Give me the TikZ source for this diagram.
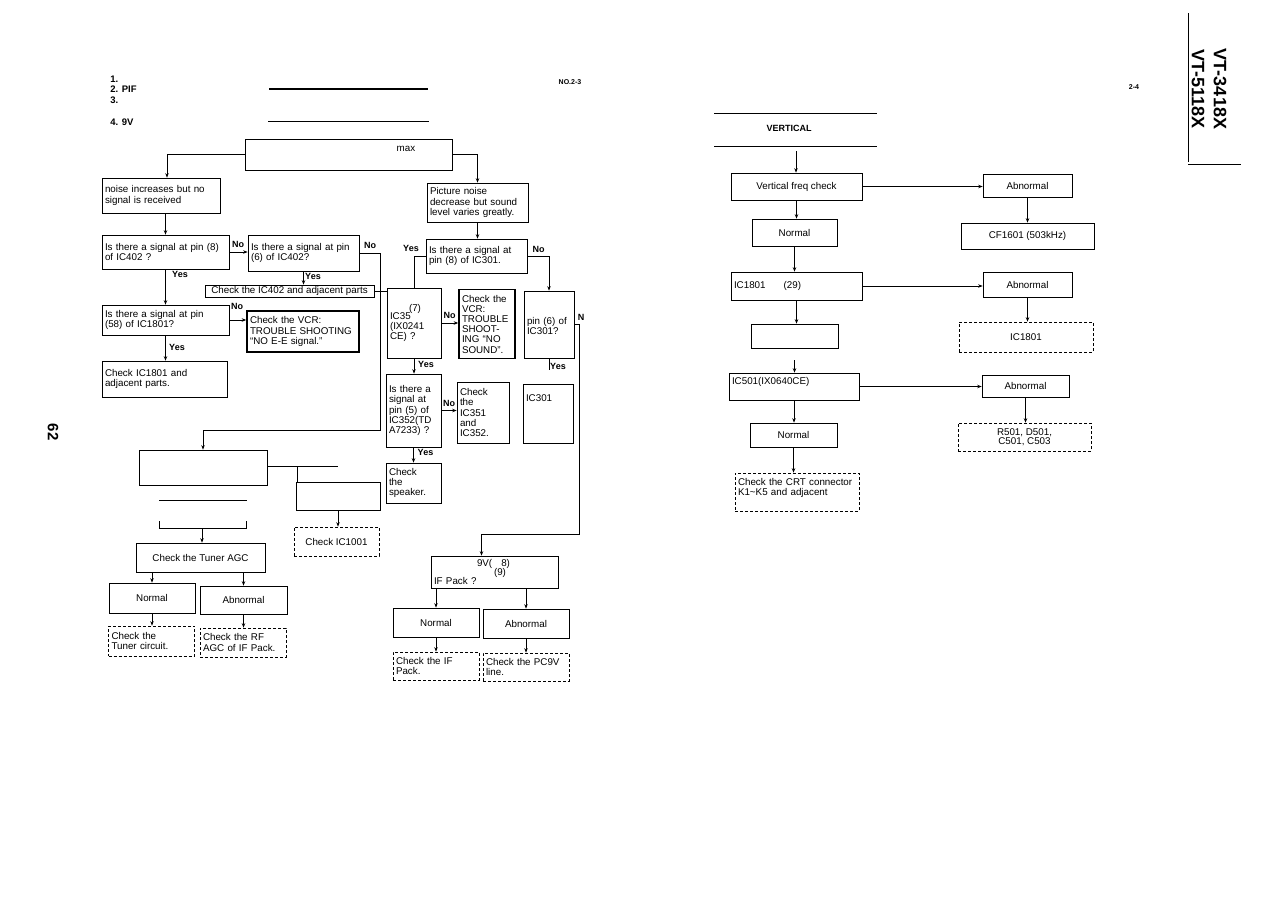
\documentclass[tikz,border=0pt]{standalone}
\usepackage{fontspec}
\setmainfont{Liberation Sans}
\usetikzlibrary{arrows.meta}
\begin{document}
\begin{tikzpicture}[x=1pt,y=-1pt,line width=.7pt,
  >={Stealth[length=4.5pt,width=3.5pt]},
  every node/.style={font=\fontsize{9.8}{10.2}\selectfont},
  box/.style={draw,inner xsep=3pt,inner ysep=1.5pt},
  dbox/.style={box,dash pattern=on 3pt off 2pt},
  vbox/.style={box,line width=1.6pt},
  wh/.style 2 args={minimum width=#1,minimum height=#2},
  tw/.style={text width=#1,align=left},
  lbl/.style={inner sep=0pt},
  yn/.style={lbl,font=\fontsize{9}{10}\selectfont\bfseries}]
\useasboundingbox (0,0) rectangle (1268,897);

% heading
\node[lbl,font=\fontsize{9.5}{10}\selectfont\bfseries,anchor=west] (h1) at (110,79) {1.};
\node[lbl,font=\fontsize{9.5}{10}\selectfont\bfseries,anchor=west] (h2) at (110,89) {2. PIF};
\node[lbl,font=\fontsize{9.5}{10}\selectfont\bfseries,anchor=west] (h3) at (110,100) {3.};
\node[lbl,font=\fontsize{9.5}{10}\selectfont\bfseries,anchor=west] (h4) at (110,122) {4. 9V};
\draw[line width=2pt] (269,89) -- (428,89);
\draw (268,121) -- (429,121);
\node[lbl,font=\fontsize{7}{8}\selectfont\bfseries] (pg23) at (570,82) {NO.2-3};
\node[lbl,font=\fontsize{15}{16}\selectfont\bfseries,rotate=-90] (pgno) at (53,432) {62};

% left chart
\node[box,wh={207pt}{31pt}] (fault) at (348.5,154.5) {};
\node[lbl] (maxlbl) at (406,149) {max};
\node[box,tw={112pt},minimum height=35pt] (noise) at (161,195.5) {noise increases but no\\signal is received};
\node[box,tw={121pt},minimum height=34pt] (ask8) at (165.5,252) {Is there a signal at pin (8)\\of IC402 ?};
\node[box,tw={105pt},minimum height=36pt] (ask6) at (303.5,253) {Is there a signal at pin\\(6) of IC402?};
\node[box,inner xsep=2pt,inner ysep=1pt,wh={169pt}{12pt}] (ic402) at (289.5,291) {Check the IC402 and adjacent parts};
\node[box,tw={121pt},minimum height=30pt] (ask58) at (165.5,320) {Is there a signal at pin\\(58) of IC1801?};
\node[vbox,tw={106pt},minimum height=41pt] (vcr1) at (303,331.5) {Check the VCR:\\TROUBLE SHOOTING\\“NO E-E signal.”};
\node[box,tw={119pt},minimum height=36pt] (ic1801) at (164.5,379) {Check IC1801 and\\adjacent parts.};

\node[box,tw={95pt},minimum height=39pt] (pnoise) at (477.5,202.5) {Picture noise\\decrease but sound\\level varies greatly.};
\node[box,tw={95pt},minimum height=34pt] (ask301) at (476.5,256) {Is there a signal at\\pin (8) of IC301.};
\node[box,tw={48pt},minimum height=70pt] (ic35) at (414,323) {\hspace*{19pt}(7)\\[-2pt]IC35\\(IX0241\\CE) ?};
\node[vbox,tw={50pt},minimum height=69pt] (vcr2) at (487,324) {Check the\\VCR:\\TROUBLE\\SHOOT-\\ING “NO\\SOUND”.};
\node[box,tw={49pt},minimum height=73pt] (ask5) at (413.5,410.5) {Is there a\\signal at\\pin (5) of\\IC352(TD\\A7233) ?};
\node[box,tw={46pt},minimum height=61pt] (ic351) at (483,412.5) {Check\\the\\IC351\\and\\IC352.};
\node[box,tw={49pt},minimum height=40pt] (spk) at (413.5,483) {Check\\the\\speaker.};
\node[box,tw={44pt},minimum height=67pt] (ask6b) at (549,324.5) {\mbox{}\\pin (6) of\\IC301?};
\node[box,tw={44pt},minimum height=59pt] (ic301) at (548,413.5) {IC301\\\mbox{}\\\mbox{}\\\mbox{}};

\node[box,wh={128pt}{35pt}] (agcq) at (203,467.5) {};
\node[box,wh={84pt}{28pt}] (ifbox) at (338,496) {};
\node[dbox,wh={85pt}{29pt}] (ic1001) at (336.5,541.5) {Check IC1001};
\node[box,wh={129pt}{29pt}] (agc) at (200.5,557.5) {Check the Tuner AGC};
\node[box,wh={86pt}{30pt}] (norm1) at (152,598) {Normal};
\node[box,wh={87pt}{28pt}] (abn1) at (243.5,600) {Abnormal};
\node[dbox,tw={80pt},minimum height=30pt] (tuner) at (151.5,641) {Check the\\Tuner circuit.};
\node[dbox,tw={80pt},minimum height=29pt] (rfagc) at (243,642.5) {Check the RF\\AGC of IF Pack.};

\node[box,tw={121pt},minimum height=32pt,inner ysep=1pt] (pc9q) at (494.5,572) {\hspace*{43pt}9V(\hspace{9pt}8)\\[-1pt]\hspace*{60pt}(9)\\[-1pt]IF Pack ?};
\node[box,wh={86pt}{29pt}] (norm2) at (436,622.5) {Normal};
\node[box,wh={86pt}{29pt}] (abn2) at (526,623.5) {Abnormal};
\node[dbox,tw={80pt},minimum height=28pt] (ifpack) at (436,666) {Check the IF\\Pack.};
\node[dbox,tw={80pt},minimum height=28pt] (pc9v) at (526,667) {Check the PC9V\\line.};

\draw[->] (fault.west) -| ([xshift=6pt]noise.north);
\draw[->] (fault.east) -| (pnoise.north);
\draw[->] (ask8.north |- noise.south) -- (ask8.north);
\draw[->] (ask8.east) -- (ask8.east -| ask6.west);
\draw[->] (ask6.south) -- (ask6.south |- ic402.north);
\draw[->] (ask8.south) -- (ask8.south |- ask58.north);
\draw[->] (ask58.east) -- (ask58.east -| vcr1.west);
\draw[->] (ask58.south) -- (ask58.south |- ic1801.north);
\coordinate (c1) at (380,430);
\draw[->] (ask6.east) -| (c1) -| (agcq.north);
\draw (ic402.east) -- (ic402.east -| ic35.west);

\draw[->] (pnoise.south) -- (pnoise.south |- ask301.north);
\draw (ask301.west) -| (ic35.north);
\draw[->] (ask301.east) -| (ask6b.north);
\draw[->] (ic35.east) -- (ic35.east -| vcr2.west);
\draw[->] (ic35.south) -- (ic35.south |- ask5.north);
\draw[->] (ask5.east) -- (ask5.east -| ic351.west);
\draw[->] (ask5.south) -- (ask5.south |- spk.north);
\coordinate (y6) at (549,370);
\draw (ask6b.south) -- (y6);
\coordinate (c2) at (579,534);
\draw[->] (ask6b.east) -| (c2) -| ([xshift=-13pt]pc9q.north);

\coordinate (stub) at (338,466);
\draw (agcq.east |- stub) -- (stub);
\coordinate (tee) at (297,466);
\draw (tee) -- (tee |- ifbox.north);
\draw (159,500) -- (247,500);
\draw (159,521) -- (159,528) -- (246,528) -- (246,521);
\coordinate (brk) at (202,528);
\draw[->] (brk) -- (brk |- agc.north);
\draw[->] (ifbox.south) -- (ifbox.south |- ic1001.north);
\draw[->] (norm1.north |- agc.south) -- (norm1.north);
\draw[->] (abn1.north |- agc.south) -- (abn1.north);
\draw[->] (norm1.south) -- (norm1.south |- tuner.north);
\draw[->] (abn1.south) -- (abn1.south |- rfagc.north);
\draw[->] (norm2.north |- pc9q.south) -- (norm2.north);
\draw[->] (abn2.north |- pc9q.south) -- (abn2.north);
\draw[->] (norm2.south) -- (norm2.south |- ifpack.north);
\draw[->] (abn2.south) -- (abn2.south |- pc9v.north);

\node[yn] (n1) at (238,244.5) {No};
\node[yn] (n2) at (370,245.5) {No};
\node[yn] (y1) at (180,274) {Yes};
\node[yn] (y2) at (313,276.5) {Yes};
\node[yn] (n3) at (237,306.5) {No};
\node[yn] (y3) at (177,347.5) {Yes};
\node[yn] (y4) at (411,248) {Yes};
\node[yn] (n4) at (538.5,249) {No};
\node[yn] (n5) at (449.5,315) {No};
\node[yn] (y5) at (426,364) {Yes};
\node[yn] (n6) at (581,317) {N};
\node[yn] (y6l) at (558,366) {Yes};
\node[yn] (n7) at (449,403) {No};
\node[yn] (y7) at (425.5,452) {Yes};

% right chart
\node[lbl,font=\fontsize{7}{8}\selectfont\bfseries] (pg24) at (1134,87) {2-4};
\node[lbl,font=\fontsize{18}{22}\selectfont\bfseries,rotate=-90,align=center] (model) at (1209,89) {VT-3418X\\VT-5118X};
\draw (1188,13) -- (1188,162);
\draw (1188,164) -- (1241,164);

\draw (714,113) -- (877,113);
\draw (714,146) -- (877,146);
\node[lbl,font=\fontsize{9}{10}\selectfont\bfseries] (vtitle) at (789,128) {VERTICAL};

\node[box,wh={131pt}{27pt}] (vf) at (796.5,186.5) {Vertical freq check};
\node[box,wh={89pt}{23pt}] (abnA) at (1027.5,185.5) {Abnormal};
\node[box,wh={133pt}{26pt}] (cf) at (1027.5,236) {CF1601 (503kHz)};
\node[box,wh={85pt}{27pt}] (normA) at (794.5,232.5) {Normal};
\node[box,tw={125pt},minimum height=28pt] (ic29) at (796.5,286) {IC1801\hspace{18pt}(29)};
\node[box,wh={89pt}{25pt}] (abnB) at (1027.5,284.5) {Abnormal};
\node[dbox,wh={134pt}{30pt}] (ic1801d) at (1026,337) {IC1801};
\node[box,wh={87pt}{24pt}] (emptyA) at (794.5,336) {};
\node[box,tw={124pt},minimum height=27pt] (ic501) at (794,386.5) {IC501(IX0640CE)\\\mbox{}};
\node[box,wh={87pt}{22pt}] (abnC) at (1025.5,386) {Abnormal};
\node[dbox,wh={133pt}{28pt},align=center] (rd) at (1024.5,437) {R501, D501,\\[-1pt]C501, C503};
\node[box,wh={87pt}{24pt}] (normB) at (793.5,435) {Normal};
\node[dbox,tw={118pt},minimum height=38pt] (crt) at (797,492) {Check the CRT connector\\K1\textasciitilde K5 and adjacent\\\mbox{}};

\coordinate (vin) at (796,151);
\draw[->] (vin) -- (vin |- vf.north);
\draw[->] (vf.east) -- (vf.east -| abnA.west);
\draw[->] (abnA.south) -- (abnA.south |- cf.north);
\draw[->] (vf.south) -- (vf.south |- normA.north);
\draw[->] (normA.south) -- (normA.south |- ic29.north);
\draw[->] (ic29.east) -- (ic29.east -| abnB.west);
\draw[->] (abnB.south) -- (abnB.south |- ic1801d.north);
\draw[->] (ic29.south) -- (ic29.south |- emptyA.north);
\draw[->] ([yshift=-12pt]emptyA.south) -- (emptyA.south |- ic501.north);
\draw[->] (ic501.east) -- (ic501.east -| abnC.west);
\draw[->] (abnC.south) -- (abnC.south |- rd.north);
\draw[->] (ic501.south) -- (ic501.south |- normB.north);
\draw[->] (normB.south) -- (normB.south |- crt.north);
\end{tikzpicture}
\end{document}
